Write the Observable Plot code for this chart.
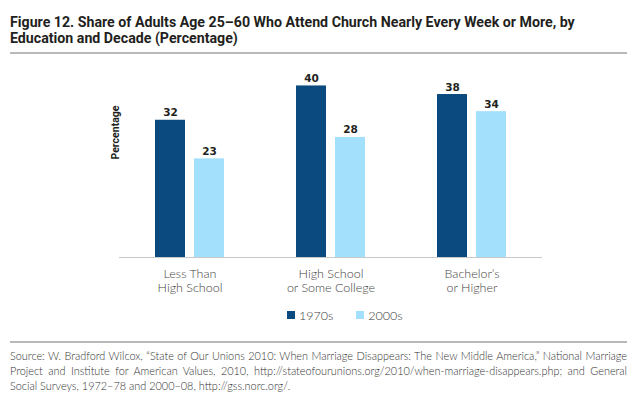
<!DOCTYPE html>
<html>
<head>
<meta charset="utf-8">
<script src="https://cdn.jsdelivr.net/npm/d3@7"></script>
<script src="https://cdn.jsdelivr.net/npm/@observablehq/plot@0.6"></script>
<style>
  html, body { margin: 0; padding: 0; background: #fff; }
  #wrap { position: relative; width: 640px; height: 399px; overflow: hidden; font-family: Roboto, "Noto Sans", sans-serif; }
  #title { position: absolute; left: 10px; top: 15px; width: 625px; font-weight: bold; font-size: 14.2px; line-height: 15.5px; color: #231f20; white-space: nowrap; }
  .rule { position: absolute; left: 10px; width: 617px; height: 1.5px; background: #b9b9b9; }
  #chart { position: absolute; left: 0; top: 56px; }
  #legend { position: absolute; left: 287px; top: 308px; height: 14px; display: flex; align-items: center; font-family: Lato, "Open Sans", sans-serif; font-weight: 300; font-size: 12.5px; color: #3a3a3a; }
  #legend .item { display: flex; align-items: center; margin-right: 23px; }
  #legend .sw { width: 8px; height: 8px; margin-right: 4px; }
  #source { position: absolute; left: 10px; top: 348px; width: 617px; font-family: Lato, "Open Sans", sans-serif; font-weight: 300; font-size: 10.9px; line-height: 15px; color: #333; }
  #source .ln { white-space: nowrap; }
  #source .ln.j { white-space: normal; text-align: justify; text-align-last: justify; }
</style>
</head>
<body>
<div id="wrap">
  <div id="title"></div>
  <div class="rule" style="top:52px"></div>
  <div id="chart"></div>
  <div id="legend"></div>
  <div class="rule" style="top:341px"></div>
  <div id="source"></div>
</div>
<script>
const titleLines = ["Figure 12. Share of Adults Age 25–60 Who Attend Church Nearly Every Week or More, by", "Education and Decade (Percentage)"];
const categories = ["Less Than\nHigh School", "High School\nor Some College", "Bachelor’s\nor Higher"];
const decades = ["1970s", "2000s"];
const values1970s = [32, 40, 38];
const values2000s = [23, 28, 34];
const colors = ["#0a4a7f", "#a2e0fb"];
const yLabel = ["Percentage"];
const sourceLines = [
  "Source: W. Bradford Wilcox, “State of Our Unions 2010: When Marriage Disappears: The New Middle America,” National Marriage",
  "Project and Institute for American Values, 2010, http://stateofourunions.org/2010/when-marriage-disappears.php; and General",
  "Social Surveys, 1972–78 and 2000–08, http://gss.norc.org/."
];

const data = [];
categories.forEach((c, i) => {
  data.push({category: c, decade: decades[0], value: values1970s[i]});
  data.push({category: c, decade: decades[1], value: values2000s[i]});
});

document.getElementById("title").innerHTML = titleLines.join("<br>");
const src = document.getElementById("source");
sourceLines.forEach((s, i) => {
  const d = document.createElement("div");
  d.className = i < sourceLines.length - 1 ? "ln j" : "ln";
  d.textContent = s;
  src.appendChild(d);
});

const legend = document.getElementById("legend");
decades.forEach((d, i) => {
  const item = document.createElement("div");
  item.className = "item";
  const sw = document.createElement("div");
  sw.className = "sw";
  sw.style.background = colors[i];
  const t = document.createElement("span");
  t.textContent = d;
  item.appendChild(sw); item.appendChild(t);
  legend.appendChild(item);
});

const chart = Plot.plot({
  width: 640,
  height: 241,
  marginTop: 8,
  marginBottom: 40,
  marginLeft: 118,
  marginRight: 97,
  style: {background: "transparent"},
  fx: {domain: categories, padding: 0, axis: null},
  x: {domain: decades, paddingInner: 0.225, paddingOuter: 0.884, axis: null},
  y: {domain: [0, 45], axis: null},
  color: {domain: decades, range: colors},
  marks: [
    Plot.ruleY([0], {stroke: "#c9c9c9", strokeWidth: 1.2}),
    Plot.barY(data, {fx: "category", x: "decade", y: "value", fill: "decade"}),
    Plot.text(data, {fx: "category", x: "decade", y: "value", text: d => String(d.value), lineAnchor: "bottom", dy: -4, fontFamily: "DejaVu Sans", fontWeight: "bold", fontSize: 10.5, fill: "#231f20"}),
    Plot.text(categories, {fx: d => d, text: d => d, frameAnchor: "bottom", lineAnchor: "top", dy: 11, lineHeight: 1.1, fontFamily: "Lato", fontWeight: 300, fontSize: 12.5, fill: "#444"}),
    Plot.text(yLabel, {fx: () => categories[0], text: d => d, frameAnchor: "top-left", rotate: -90, textAnchor: "end", dx: -7.5, dy: 41, fontFamily: "Roboto", fontWeight: "bold", fontSize: 10.5, fill: "#231f20"})
  ]
});
document.getElementById("chart").appendChild(chart);
</script>
</body>
</html>
